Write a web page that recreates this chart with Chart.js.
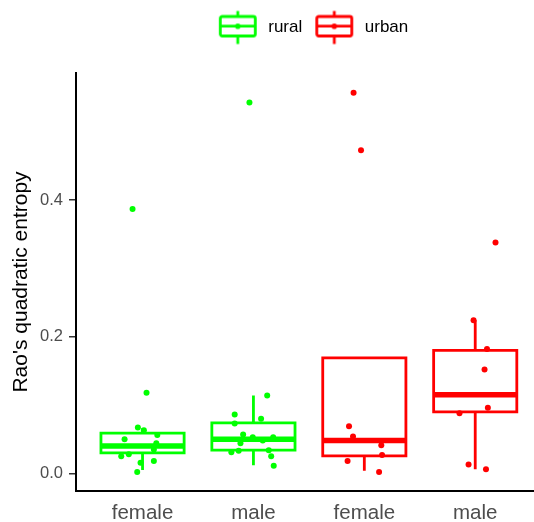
<!DOCTYPE html>
<html>
<head>
<meta charset="utf-8">
<script src="https://cdn.jsdelivr.net/npm/chart.js@4.4.1/dist/chart.umd.min.js"></script>
<style>
  html, body { margin: 0; padding: 0; background: #fff; }
  #wrap { width: 534px; height: 522px; }
</style>
</head>
<body>
<div id="wrap"><canvas id="boxChart"></canvas></div>
<script>
// groups along the x axis
const categories = ['female', 'male', 'female', 'male'];
const areas = ['rural', 'rural', 'urban', 'urban'];

// box statistics per group
const lowWhisker = [0.005, 0.012, 0.004, 0.006];
const lowerQuartile = [0.030, 0.034, 0.0255, 0.090];
const medians = [0.040, 0.050, 0.048, 0.115];
const upperQuartile = [0.059, 0.074, 0.169, 0.180];
const highWhisker = [0.066, 0.114, 0.169, 0.224];

const yTicks = [0, 0.2, 0.4];

// jittered observations: [jitter in category units, value]
const ruralFemale = [
  [0.036, 0.118], [-0.042, 0.067], [0.012, 0.063], [0.133, 0.056], [-0.162, 0.050],
  [0.124, 0.044], [0.102, 0.035], [-0.192, 0.025], [-0.124, 0.028], [-0.018, 0.0155],
  [0.102, 0.018], [-0.048, 0.002], [-0.090, 0.387]
];
const ruralMale = [
  [0.124, 0.114], [-0.169, 0.086], [0.069, 0.080], [-0.169, 0.073], [-0.093, 0.057],
  [-0.006, 0.053], [0.084, 0.048], [0.178, 0.053], [-0.117, 0.044], [-0.199, 0.031],
  [-0.133, 0.033], [0.138, 0.034], [0.160, 0.025], [0.183, 0.011], [-0.036, 0.543]
];
const urbanFemale = [
  [-0.138, 0.069], [-0.102, 0.054], [0.153, 0.041], [0.160, 0.027], [-0.151, 0.018],
  [0.133, 0.002], [-0.097, 0.557], [-0.030, 0.473]
];
const urbanMale = [
  [-0.015, 0.224], [0.106, 0.182], [0.084, 0.152], [0.114, 0.096], [-0.142, 0.088],
  [-0.060, 0.013], [0.097, 0.006], [0.183, 0.338]
];
const observations = [ruralFemale, ruralMale, urbanFemale, urbanMale];

const areaColors = { rural: '#00ff00', urban: '#ff0000' };
const font = 'Liberation Sans, Arial, sans-serif';
const halfWidth = 0.375;

const datasets = [];
categories.forEach((cat, i) => {
  const c = i + 1;
  const col = areaColors[areas[i]];
  datasets.push({
    type: 'scatter',
    order: 0,
    data: observations[i].map(([j, v]) => ({ x: c + j, y: v })),
    backgroundColor: col,
    borderWidth: 0,
    pointRadius: 3,
    pointHoverRadius: 3
  });
  datasets.push({
    type: 'line',
    order: 1,
    data: [{ x: c - halfWidth, y: medians[i] }, { x: c + halfWidth, y: medians[i] }],
    borderColor: col,
    borderWidth: 5.5,
    borderCapStyle: 'butt',
    pointRadius: 0,
    pointHoverRadius: 0
  });
  datasets.push({
    type: 'line',
    order: 2,
    data: [
      { x: c, y: lowerQuartile[i] }, { x: c + halfWidth, y: lowerQuartile[i] },
      { x: c + halfWidth, y: upperQuartile[i] }, { x: c - halfWidth, y: upperQuartile[i] },
      { x: c - halfWidth, y: lowerQuartile[i] }, { x: c, y: lowerQuartile[i] },
      { x: c, y: lowWhisker[i] },
      { x: c, y: null },
      { x: c, y: upperQuartile[i] }, { x: c, y: highWhisker[i] }
    ],
    borderColor: col,
    borderWidth: 2.8,
    borderJoinStyle: 'miter',
    borderCapStyle: 'butt',
    pointRadius: 0,
    pointHoverRadius: 0,
    fill: false,
    spanGaps: false
  });
});

// small boxplot glyph for the legend
function legendIcon(col) {
  const cv = document.createElement('canvas');
  cv.width = 40; cv.height = 36;
  const g = cv.getContext('2d');
  g.strokeStyle = col; g.fillStyle = col;
  g.lineWidth = 2.8; g.lineJoin = 'round';
  g.beginPath();
  g.moveTo(20, 1.5); g.lineTo(20, 7);
  g.moveTo(20, 26.5); g.lineTo(20, 34.5);
  g.stroke();
  g.beginPath();
  g.roundRect(2.5, 7, 35, 19.5, 2);
  g.stroke();
  g.beginPath();
  g.moveTo(2.5, 16.7); g.lineTo(37.5, 16.7);
  g.stroke();
  g.beginPath();
  g.arc(20, 16.7, 2.8, 0, Math.PI * 2);
  g.fill();
  return cv;
}

const legendTweak = {
  id: 'legendTweak',
  beforeInit(chart) {
    const fit = chart.legend.fit;
    chart.legend.fit = function () {
      fit.bind(chart.legend)();
      this.height = 64;
    };
  },
  afterLayout(chart) {
    chart.legend.left = chart.chartArea.left;
    chart.legend.right = chart.chartArea.right + 14;
  }
};

new Chart(document.getElementById('boxChart'), {
  type: 'scatter',
  data: { datasets: datasets },
  options: {
    responsive: true,
    maintainAspectRatio: false,
    animation: false,
    events: [],
    layout: { autoPadding: false, padding: { top: 9, left: 0, right: 0, bottom: 0 } },
    plugins: {
      tooltip: { enabled: false },
      legend: {
        position: 'top',
        align: 'center',
        labels: {
          usePointStyle: true,
          pointStyleWidth: 44,
          boxHeight: 17,
          padding: 10,
          color: '#000',
          font: { family: font, size: 17 },
          generateLabels: () => ['rural', 'urban'].map(a => ({
            text: a,
            pointStyle: legendIcon(areaColors[a]),
            fillStyle: areaColors[a],
            strokeStyle: areaColors[a],
            lineWidth: 0,
            hidden: false,
            fontColor: '#000'
          }))
        }
      }
    },
    scales: {
      x: {
        type: 'linear',
        min: 0.4,
        max: 4.53,
        afterBuildTicks: s => { s.ticks = categories.map((c, i) => ({ value: i + 1 })); },
        afterFit: s => { s.height = 31; },
        grid: { display: false },
        border: { display: true, color: '#000', width: 2 },
        ticks: {
          padding: 2,
          color: '#4d4d4d',
          font: { family: font, size: 20.5 },
          callback: v => categories[Math.round(v) - 1]
        }
      },
      y: {
        min: -0.0258,
        max: 0.586,
        afterBuildTicks: s => { s.ticks = yTicks.map(v => ({ value: v })); },
        afterFit: s => { s.width = 76; },
        grid: { drawOnChartArea: false, drawTicks: true, tickLength: 7, color: '#333', lineWidth: 1.5 },
        border: { display: true, color: '#000', width: 2 },
        ticks: {
          padding: 6,
          color: '#4d4d4d',
          font: { family: font, size: 16.5 },
          callback: v => v.toFixed(1)
        },
        title: {
          display: true,
          text: "Rao's quadratic entropy",
          color: '#000',
          font: { family: font, size: 21 },
          padding: { top: 9, bottom: 0 }
        }
      }
    }
  },
  plugins: [legendTweak]
});
</script>
</body>
</html>
